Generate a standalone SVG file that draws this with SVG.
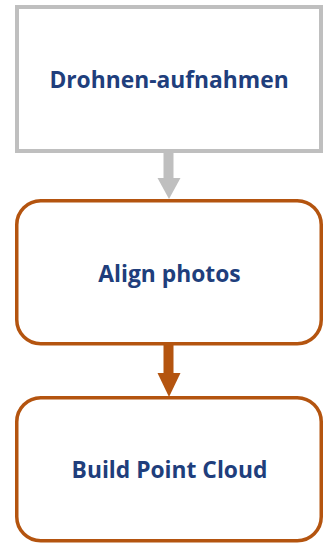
<svg xmlns="http://www.w3.org/2000/svg" width="332" height="543" viewBox="0 0 332 543">
<style>
.lbl{font-family:"Open Sans","Noto Sans","Liberation Sans",sans-serif;font-weight:bold;font-size:22.8px;fill:#203e7c;text-anchor:middle}
.orange{fill:#ffffff;stroke:#b4540f;stroke-width:3.5}
</style>
<rect width="332" height="543" fill="#ffffff"/>
<g id="connectors">
<g id="c1" fill="#bfbfbf">
<rect x="163.5" y="152" width="10" height="26"/>
<polygon points="157.5,178 180.5,178 169,199"/>
</g>
<g id="c2" fill="#b4540f">
<rect x="163.5" y="345" width="10" height="28"/>
<polygon points="157.5,373 180.5,373 169,397"/>
</g>
</g>
<g id="n1">
<rect x="17" y="7" width="304" height="144" fill="#ffffff" stroke="#bfbfbf" stroke-width="4"/>
<text class="lbl" x="169" y="88">Drohnen-aufnahmen</text>
</g>
<g id="n2">
<rect class="orange" x="16.75" y="200.75" width="304.5" height="143" rx="24"/>
<text class="lbl" x="169.5" y="282">Align photos</text>
</g>
<g id="n3">
<rect class="orange" x="16.75" y="397.75" width="304.5" height="143" rx="24"/>
<text class="lbl" x="169.5" y="478">Build Point Cloud</text>
</g>
</svg>
